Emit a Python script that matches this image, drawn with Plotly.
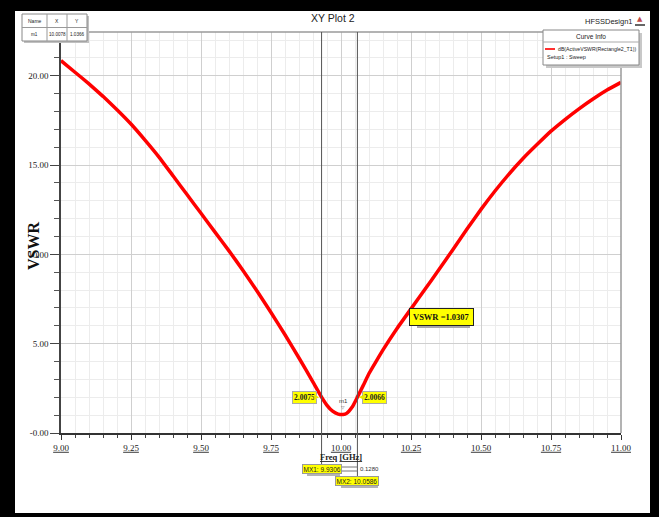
import plotly.graph_objects as go

# ---------------- data ----------------
freq_ghz = [9.00, 9.05, 9.10, 9.15, 9.20, 9.25, 9.30, 9.35, 9.40, 9.45, 9.50, 9.55,
            9.60, 9.65, 9.70, 9.75, 9.80, 9.85, 9.90, 9.9306, 9.95, 9.97, 9.99,
            10.0078, 10.02, 10.04, 10.0586, 10.08, 10.10, 10.125, 10.15, 10.20, 10.25,
            10.30, 10.35, 10.40, 10.45, 10.50, 10.55, 10.60, 10.65, 10.70, 10.75,
            10.80, 10.85, 10.90, 10.95, 11.00]
vswr = [20.85, 20.20, 19.55, 18.85, 18.10, 17.30, 16.40, 15.45, 14.40, 13.35, 12.30, 11.25,
        10.20, 9.10, 7.95, 6.75, 5.50, 4.20, 2.85, 2.0075, 1.55, 1.22, 1.06,
        1.0366, 1.10, 1.45, 2.0066, 2.68, 3.33, 4.00, 4.65, 5.85, 6.95,
        8.05, 9.15, 10.28, 11.42, 12.52, 13.55, 14.50, 15.37, 16.15, 16.90,
        17.55, 18.15, 18.70, 19.20, 19.63]

marker_names = ["MX1", "MX2"]
marker_freq = [9.9306, 10.0586]
marker_vswr = [2.0075, 2.0066]

m1_name = "m1"
m1_freq = 10.0078
m1_vswr = 1.0366

note_text = "VSWR =1.0307"
curve_name = "dB(ActiveVSWR(Rectangle2_T1))"
setup_name = "Setup1 : Sweep"
plot_title = "XY Plot 2"
design_name = "HFSSDesign1"

x_tick_vals = [9.00, 9.25, 9.50, 9.75, 10.00, 10.25, 10.50, 10.75, 11.00]
x_tick_labels = ["9.00", "9.25", "9.50", "9.75", "10.00", "10.25", "10.50", "10.75", "11.00"]
y_tick_vals = [0, 5, 10, 15, 20]
y_tick_labels = ["-0.00", "5.00", "10.00", "15.00", "20.00"]

# ---------------- geometry helpers ----------------
W, H = 659, 517
ML, MR, MT, MB = 61, 38, 32, 84
PW, PH = W - ML - MR, H - MT - MB


def px(x):
    return (x - ML) / PW


def py(y):
    return (H - MB - y) / PH


SERIF = "Liberation Serif, Times New Roman, serif"
SANS = "Liberation Sans Narrow, Liberation Sans, Arial, sans-serif"

fig = go.Figure()
fig.add_trace(go.Scatter(
    x=freq_ghz, y=vswr, mode="lines", name=curve_name,
    line=dict(color="#ff0000", width=3.5, shape="spline", smoothing=0.4),
    showlegend=False, hoverinfo="skip"))

shapes = []
ann = []


def prect(x0, x1, y0, y1, fill, line_color=None, lw=0):
    shapes.append(dict(type="rect", xref="paper", yref="paper", x0=px(x0), x1=px(x1),
                       y0=py(y1), y1=py(y0), fillcolor=fill,
                       line=dict(color=line_color or fill, width=lw)))


def ptext(xp, yp, text, font, xanchor="center", **kw):
    d = dict(xref="paper", yref="paper", x=px(xp), y=py(yp), text=text, showarrow=False,
             xanchor=xanchor, yanchor="middle", font=font)
    d.update(kw)
    ann.append(d)


# white sheet inside the black frame
shapes.append(dict(type="rect", xref="paper", yref="paper", x0=px(15), x1=px(650),
                   y0=py(513), y1=py(11), fillcolor="white", line=dict(width=0), layer="below"))
# top and right frame of plot area
shapes.append(dict(type="line", xref="paper", yref="paper", x0=0, x1=1, y0=1, y1=1,
                   line=dict(color="#9a9a9a", width=1.5)))
shapes.append(dict(type="line", xref="paper", yref="paper", x0=1, x1=1, y0=0, y1=1,
                   line=dict(color="#9a9a9a", width=1.5)))

# marker vertical lines
marker_bottom = [py(474), py(476)]
for i, mf in enumerate(marker_freq):
    shapes.append(dict(type="line", xref="x", yref="paper", x0=mf, x1=mf,
                       y0=marker_bottom[i], y1=1, line=dict(color="#555555", width=1)))
# delta bracket
for yy in (467, 471):
    shapes.append(dict(type="line", xref="x", yref="paper", x0=marker_freq[0], x1=marker_freq[1],
                       y0=py(yy), y1=py(yy), line=dict(color="#777777", width=1)))

# ---------------- marker boxes below axis ----------------
box_y = [469, 481]
box_shadow = [(305, 338, 464, 474), (339, 376, 476, 486)]
for (x0, x1, y0, y1) in box_shadow:
    prect(x0 + 2, x1 + 2, y0 + 2, y1 + 2, "#b4b4b4")
for i, (nm, mf) in enumerate(zip(marker_names, marker_freq)):
    ann.append(dict(xref="x", yref="paper", x=mf, y=py(box_y[i]), xanchor="center",
                    yanchor="middle", text=f"{nm}: {mf:.4f}", showarrow=False,
                    font=dict(family=SANS, size=6.5, color="#222"),
                    bgcolor="#ffff00", bordercolor="#999", borderwidth=1, borderpad=0.5))
delta = marker_freq[1] - marker_freq[0]
ann.append(dict(xref="x", yref="paper", x=marker_freq[1], y=py(468.5), xanchor="left",
                yanchor="middle", xshift=1, text=f"{delta:.4f}", showarrow=False,
                font=dict(family=SANS, size=6, color="#333")))

# marker value labels on the curve
sides = [("right", -5, "▶"), ("left", 5, "◀")]
for i, (mf, mv) in enumerate(zip(marker_freq, marker_vswr)):
    anchor, shift, glyph = sides[i]
    ann.append(dict(xref="x", yref="y", x=mf, y=mv, xanchor=anchor, xshift=shift,
                    text=f"<b>{mv:.4f}</b>", showarrow=False,
                    font=dict(family=SERIF, size=7.5, color="#222"),
                    bgcolor="#ffff00", bordercolor="#aaa", borderwidth=1, borderpad=1))
    ann.append(dict(xref="x", yref="y", x=mf, y=mv, xanchor=anchor, xshift=0,
                    text=glyph, showarrow=False,
                    font=dict(family="DejaVu Sans", size=7, color="#e8e800")))

# m1 marker
ann.append(dict(xref="x", yref="y", x=m1_freq, y=m1_vswr, yshift=13, text=m1_name,
                showarrow=False, font=dict(family=SANS, size=6, color="#333")))
ann.append(dict(xref="x", yref="y", x=m1_freq, y=m1_vswr, yshift=7, text="▽",
                showarrow=False, font=dict(family="DejaVu Sans", size=4.5, color="#555")))

# VSWR note box with shadow
prect(417, 470, 310, 328, "#a8a8a8")
ptext(441.5, 317, f"<b>{note_text}</b>", dict(family=SERIF, size=8.5, color="#111"),
      bgcolor="#ffff00", bordercolor="#222", borderwidth=1, borderpad=3)

# titles
ptext(333, 18, plot_title, dict(family=SANS, size=10.5, color="#222"))
ptext(609, 21, design_name, dict(family=SANS, size=7.5, color="#222"))
ptext(640, 19, "▲", dict(family="DejaVu Sans", size=7, color="#c04848"))
shapes.append(dict(type="line", xref="paper", yref="paper", x0=px(635), x1=px(645),
                   y0=py(25), y1=py(25), line=dict(color="#333", width=1.5)))
ptext(33, 246, "<b>VSWR</b>", dict(family=SERIF, size=16, color="#111"), textangle=-90)
ptext(341, 457, "<b><u>Freq</u> <u>[GHz]</u></b>", dict(family=SERIF, size=8.5, color="#222"))

# ---------------- curve info legend ----------------
lx0, lx1, ly0, ly1 = 543, 639, 30, 65
prect(lx0 + 3, lx1 + 3, ly0 + 3, ly1 + 3, "#c8c8c8")
prect(lx0, lx1, ly0, ly1, "white", "#888", 1)
shapes.append(dict(type="line", xref="paper", yref="paper", x0=px(lx0), x1=px(lx1),
                   y0=py(42), y1=py(42), line=dict(color="#aaa", width=1)))
shapes.append(dict(type="line", xref="paper", yref="paper", x0=px(545), x1=px(555),
                   y0=py(49), y1=py(49), line=dict(color="#ff3030", width=2)))
ptext(591, 36, "Curve Info", dict(family=SANS, size=6.5, color="#222"))
ptext(556, 49, curve_name, dict(family=SANS, size=5.2, color="#222"), xanchor="left")
ptext(545, 57, setup_name, dict(family=SANS, size=5.5, color="#222"), xanchor="left")

# ---------------- marker table ----------------
tx0, tx1, ty0, ty1 = 22, 87, 14, 41
prect(tx0 + 2, tx1 + 2, ty0 + 2, ty1 + 2, "#c0c0c0")
prect(tx0, tx1, ty0, ty1, "white", "#888", 1)
shapes.append(dict(type="line", xref="paper", yref="paper", x0=px(tx0), x1=px(tx1),
                   y0=py(27.5), y1=py(27.5), line=dict(color="#999", width=1)))
for cx in (47, 67):
    shapes.append(dict(type="line", xref="paper", yref="paper", x0=px(cx), x1=px(cx),
                       y0=py(ty1), y1=py(ty0), line=dict(color="#999", width=1)))
header = ["Name", "X", "Y"]
row = [m1_name, f"{m1_freq:.4f}", f"{m1_vswr:.4f}"]
col_c = [34.5, 57, 77]
for c, h, r in zip(col_c, header, row):
    ptext(c, 21, h, dict(family=SANS, size=5, color="#222"))
    ptext(c, 34.5, r, dict(family=SANS, size=4.6, color="#222"))

fig.update_layout(
    width=W, height=H,
    margin=dict(l=ML, r=MR, t=MT, b=MB, pad=0),
    paper_bgcolor="black", plot_bgcolor="white",
    shapes=shapes, annotations=ann,
    showlegend=False,
    xaxis=dict(range=[9, 11], tickmode="array", tickvals=x_tick_vals,
               ticktext=[f"<u>{t}</u>" for t in x_tick_labels],
               tickfont=dict(family=SERIF, size=9, color="#222"),
               showgrid=True, gridcolor="#cfcfcf", gridwidth=1,
               zeroline=False, showline=True, linecolor="#333", linewidth=2,
               ticks="outside", ticklen=5, tickcolor="#333", tickwidth=1,
               minor=dict(tick0=9, dtick=0.05, showgrid=True, gridcolor="#ececec",
                          ticks="outside", ticklen=3, tickcolor="#444")),
    yaxis=dict(range=[0, PH / 17.86], tickmode="array", tickvals=y_tick_vals,
               ticktext=y_tick_labels,
               tickfont=dict(family=SERIF, size=9, color="#222"),
               showgrid=True, gridcolor="#cfcfcf", gridwidth=1,
               zeroline=False, showline=True, linecolor="#444", linewidth=1.5,
               ticks="outside", ticklen=9, tickcolor="#444", tickwidth=1,
               minor=dict(tick0=0, dtick=1, showgrid=True, gridcolor="#ececec",
                          ticks="outside", ticklen=5, tickcolor="#555")),
)

fig.write_html("out.html", config={"displayModeBar": False},
               post_script="document.body.style.margin='0px';"
                           "document.body.style.background='#000';")
